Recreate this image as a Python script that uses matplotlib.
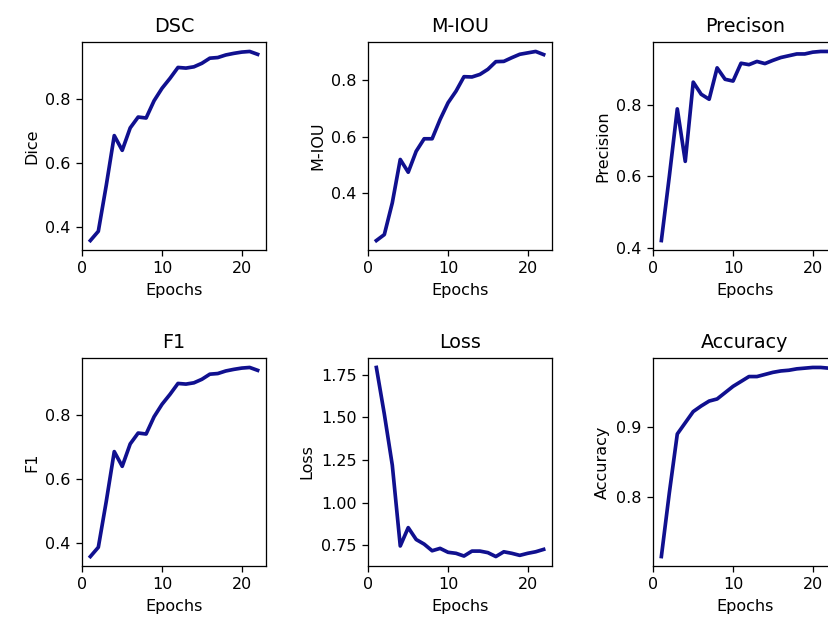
import matplotlib
matplotlib.use('Agg')
import matplotlib.pyplot as plt
from matplotlib.ticker import MultipleLocator

epochs = list(range(1, 23))

dice = [0.357, 0.386, 0.53, 0.685, 0.639, 0.709, 0.743, 0.740, 0.794, 0.833, 0.864,
        0.898, 0.896, 0.900, 0.911, 0.927, 0.929, 0.937, 0.942, 0.946, 0.948, 0.939]
miou = [0.234, 0.255, 0.367, 0.520, 0.475, 0.549, 0.593, 0.593, 0.661, 0.720, 0.761,
        0.812, 0.811, 0.820, 0.838, 0.865, 0.866, 0.879, 0.891, 0.896, 0.901, 0.890]
precision = [0.420, 0.600, 0.789, 0.642, 0.864, 0.830, 0.816, 0.904, 0.872, 0.867, 0.917,
             0.913, 0.922, 0.916, 0.925, 0.933, 0.938, 0.943, 0.943, 0.948, 0.950, 0.950]
f1 = [0.357, 0.386, 0.53, 0.685, 0.639, 0.709, 0.743, 0.740, 0.794, 0.833, 0.864,
      0.898, 0.896, 0.900, 0.911, 0.927, 0.929, 0.937, 0.942, 0.946, 0.948, 0.939]
loss = [1.794, 1.52, 1.22, 0.745, 0.853, 0.783, 0.756, 0.717, 0.731, 0.708, 0.702,
        0.686, 0.715, 0.715, 0.706, 0.683, 0.711, 0.702, 0.690, 0.702, 0.711, 0.725]
accuracy = [0.715, 0.806, 0.890, 0.906, 0.922, 0.930, 0.937, 0.940, 0.949, 0.958, 0.965,
            0.972, 0.972, 0.975, 0.978, 0.980, 0.981, 0.983, 0.984, 0.985, 0.985, 0.984]

titles = ['DSC', 'M-IOU', 'Precison', 'F1', 'Loss', 'Accuracy']
ylabels = ['Dice', 'M-IOU', 'Precision', 'F1', 'Loss', 'Accuracy']
series = [dice, miou, precision, f1, loss, accuracy]
ysteps = [0.2, 0.2, 0.2, 0.2, 0.25, 0.1]

W, H = 828, 624
fig = plt.figure(figsize=(W / 115, H / 115), dpi=115)

# axes boxes in pixels (left, top, right, bottom); right column runs off the edge
lefts = [82, 368, 653]
rows = [(42, 250), (358, 566)]
width = 184

for i in range(6):
    r, c = divmod(i, 3)
    top, bot = rows[r]
    ax = fig.add_axes([lefts[c] / W, (H - bot) / H, width / W, (bot - top) / H])
    ax.plot(epochs, series[i], color='#10108f', lw=2.3)
    ax.set_title(titles[i])
    ax.set_xlabel('Epochs')
    ax.set_ylabel(ylabels[i])
    ax.xaxis.set_major_locator(MultipleLocator(10))
    ax.yaxis.set_major_locator(MultipleLocator(ysteps[i]))

plt.savefig('out.png', dpi=115)
